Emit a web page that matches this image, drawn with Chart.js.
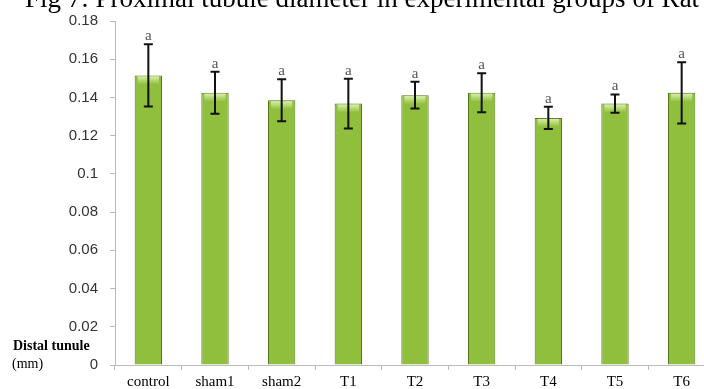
<!DOCTYPE html>
<html>
<head>
<meta charset="utf-8">
<script src="https://cdn.jsdelivr.net/npm/chart.js@4.4.1/dist/chart.umd.min.js"></script>
<style>
  html, body { margin: 0; padding: 0; background: #fff; overflow: hidden; }
  #wrap { width: 720px; height: 389px; position: relative; }
</style>
</head>
<body>
<div id="wrap"><canvas id="tubuleChart"></canvas></div>
<script>
const groups = ["control", "sham1", "sham2", "T1", "T2", "T3", "T4", "T5", "T6"];
const means = [0.1515, 0.1425, 0.1385, 0.1368, 0.1412, 0.1425, 0.1293, 0.1368, 0.1424];
const errs = [0.0163, 0.0110, 0.0110, 0.0130, 0.0070, 0.0102, 0.0058, 0.0048, 0.0160];
const letters = ["a", "a", "a", "a", "a", "a", "a", "a", "a"];
const yTicks = [0, 0.02, 0.04, 0.06, 0.08, 0.1, 0.12, 0.14, 0.16, 0.18];

// cylinder-like green fill
function barFill(ctx) {
  const el = ctx.element;
  const c = ctx.chart.ctx;
  if (!el || !el.width) return "#8fbf3c";
  const x0 = el.x - el.width / 2, x1 = el.x + el.width / 2;
  const g = c.createLinearGradient(x0, 0, x1, 0);
  g.addColorStop(0, "#648c22");
  g.addColorStop(0.15, "#94c63c");
  g.addColorStop(0.5, "#a8d650");
  g.addColorStop(0.85, "#90c23a");
  g.addColorStop(1, "#5a801e");
  return g;
}

const extras = {
  id: "extras",
  afterDatasetsDraw(chart) {
    const c = chart.ctx;
    const y = chart.scales.y;
    const meta = chart.getDatasetMeta(0);
    c.save();
    meta.data.forEach((bar, i) => {
      const x = bar.x;
      const hw = bar.width / 2;
      // top highlight
      const top = y.getPixelForValue(means[i]);
      const hg = c.createLinearGradient(0, top, 0, top + 9);
      hg.addColorStop(0, "rgba(230,248,190,0.95)");
      hg.addColorStop(1, "rgba(230,248,190,0)");
      c.fillStyle = hg;
      c.fillRect(x - hw + 3, top + 1, bar.width - 6, 8);

      const yt = y.getPixelForValue(means[i] + errs[i]);
      const yb = y.getPixelForValue(means[i] - errs[i]);
      c.strokeStyle = "#111";
      c.lineWidth = 2;
      c.beginPath();
      c.moveTo(x, yt); c.lineTo(x, yb);
      c.moveTo(x - 4.5, yt); c.lineTo(x + 4.5, yt);
      c.moveTo(x - 4.5, yb); c.lineTo(x + 4.5, yb);
      c.stroke();

      c.fillStyle = "#555";
      c.font = "15px 'Liberation Serif'";
      c.textAlign = "center";
      c.textBaseline = "alphabetic";
      c.fillText(letters[i], x, yt - 4);
    });

    c.fillStyle = "#000";
    c.textAlign = "left";
    c.font = "27px 'Liberation Serif'";
    c.fillText("Fig 7: Proximal tubule diameter in experimental groups of Rat", 25, 7);

    c.font = "bold 14px 'Liberation Serif'";
    c.fillText("Distal tunule", 13, 350);
    c.font = "14px 'Liberation Serif'";
    c.fillText("(mm)", 12, 368);
    c.restore();
  }
};

new Chart(document.getElementById("tubuleChart"), {
  type: "bar",
  data: {
    labels: groups,
    datasets: [{
      data: means,
      backgroundColor: barFill,
      borderColor: "#55761d",
      borderWidth: 1,
      categoryPercentage: 1,
      barPercentage: 0.41
    }]
  },
  options: {
    responsive: true,
    maintainAspectRatio: false,
    animation: false,
    layout: { padding: { left: 0, right: 5, top: 21, bottom: 0 } },
    plugins: { legend: { display: false }, tooltip: { enabled: false } },
    scales: {
      y: {
        min: 0, max: 0.18,
        afterBuildTicks: s => { s.ticks = yTicks.map(v => ({ value: v })); },
        afterFit: s => { s.width = 115; },
        border: { color: "#bbb", width: 1 },
        grid: { drawOnChartArea: false, color: "#bbb", tickLength: 5 },
        ticks: {
          color: "#333",
          font: { family: "'Liberation Sans'", size: 15 },
          padding: 12,
          callback: v => String(Number(v.toFixed(2)))
        }
      },
      x: {
        afterFit: s => { s.height = 24; },
        border: { color: "#bbb", width: 1 },
        grid: { drawOnChartArea: false, color: "#bbb", tickLength: 5, offset: true },
        ticks: {
          color: "#000",
          font: { family: "'Liberation Serif'", size: 15 },
          padding: 3
        }
      }
    }
  },
  plugins: [extras]
});
</script>
</body>
</html>
